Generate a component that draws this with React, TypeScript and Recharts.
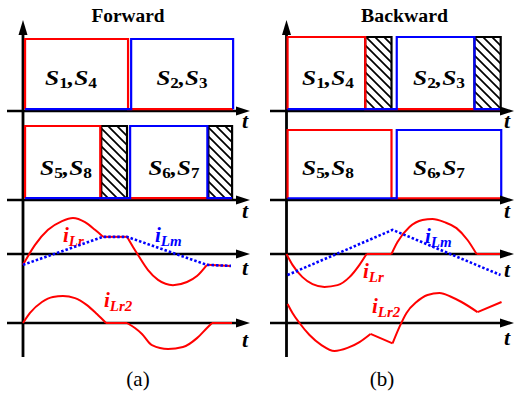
import React from 'react';
import {
  ComposedChart,
  Line,
  XAxis,
  YAxis,
  ReferenceLine,
  ReferenceArea,
  ReferenceDot,
} from 'recharts';

type P = { t: number; v: number };
type Span = { t1: number; t2: number };

// ---------- DATA (time t in arbitrary units, half switching period = 10) ----------
const LOW = 0.025; // "off" level of the gate signals (drawn just above the axis)

// Forward (a) gate signals
const fwdS14: P[] = [{ t: 0.2, v: LOW }, { t: 0.2, v: 1 }, { t: 10.2, v: 1 }, { t: 10.2, v: LOW }, { t: 20.4, v: LOW }];
const fwdS23: P[] = [{ t: 0.2, v: LOW }, { t: 10.5, v: LOW }, { t: 10.5, v: 1 }, { t: 20.4, v: 1 }, { t: 20.4, v: LOW }];
const fwdS58: P[] = [{ t: 0.2, v: LOW }, { t: 0.2, v: 1 }, { t: 7.5, v: 1 }, { t: 7.5, v: LOW }, { t: 20.3, v: LOW }];
const fwdS67: P[] = [{ t: 0.2, v: LOW }, { t: 10.4, v: LOW }, { t: 10.4, v: 1 }, { t: 17.9, v: 1 }, { t: 17.9, v: LOW }, { t: 20.3, v: LOW }];
const fwdDeadRow2: Span[] = [{ t1: 7.6, t2: 10.1 }, { t1: 18.0, t2: 20.3 }];

// Forward (a) currents
const fwdILr: P[] = [
  { t: 0, v: -0.31 }, { t: 1.17, v: 0.26 }, { t: 2.43, v: 0.69 }, { t: 3.79, v: 0.94 }, { t: 4.85, v: 1.03 },
  { t: 6.02, v: 0.91 }, { t: 6.99, v: 0.69 }, { t: 7.77, v: 0.49 }, { t: 10.1, v: 0.49 }, { t: 10.68, v: 0.2 },
  { t: 11.17, v: -0.03 }, { t: 12.14, v: -0.46 }, { t: 13.11, v: -0.74 }, { t: 14.56, v: -0.89 }, { t: 15.92, v: -0.8 },
  { t: 16.89, v: -0.63 }, { t: 17.86, v: -0.31 }, { t: 20.19, v: -0.34 },
];
const fwdILrCorners = [7, 8, 16];
const fwdILm: P[] = [{ t: 0, v: -0.31 }, { t: 7.77, v: 0.49 }, { t: 10.1, v: 0.49 }, { t: 17.86, v: -0.31 }, { t: 20.19, v: -0.34 }];
const fwdILr2: P[] = [
  { t: 0, v: 0 }, { t: 0.68, v: 0.36 }, { t: 1.84, v: 0.75 }, { t: 2.91, v: 0.93 }, { t: 3.88, v: 0.96 },
  { t: 5.05, v: 0.89 }, { t: 6.21, v: 0.64 }, { t: 7.18, v: 0.32 }, { t: 8.06, v: 0 }, { t: 10.1, v: 0 },
  { t: 10.87, v: -0.18 }, { t: 11.55, v: -0.39 }, { t: 12.52, v: -0.79 }, { t: 14.08, v: -0.93 }, { t: 15.53, v: -0.86 },
  { t: 16.89, v: -0.54 }, { t: 17.86, v: -0.18 }, { t: 18.35, v: 0 }, { t: 20.29, v: 0 },
];
const fwdILr2Corners = [8, 9, 17];

// Backward (b) gate signals
const bwdS14: P[] = [{ t: 0.1, v: LOW }, { t: 0.1, v: 1 }, { t: 7.5, v: 1 }, { t: 7.5, v: LOW }, { t: 20.4, v: LOW }];
const bwdS23: P[] = [{ t: 0.1, v: LOW }, { t: 10.5, v: LOW }, { t: 10.5, v: 1 }, { t: 17.9, v: 1 }, { t: 17.9, v: LOW }, { t: 20.4, v: LOW }];
const bwdDeadRow1: Span[] = [{ t1: 7.5, t2: 10.0 }, { t1: 17.9, t2: 20.4 }];
const bwdS58: P[] = [{ t: 0.1, v: LOW }, { t: 0.1, v: 1 }, { t: 10.0, v: 1 }, { t: 10.0, v: LOW }, { t: 20.45, v: LOW }];
const bwdS67: P[] = [{ t: 0.1, v: LOW }, { t: 10.5, v: LOW }, { t: 10.5, v: 1 }, { t: 20.45, v: 1 }, { t: 20.45, v: LOW }];

// Backward (b) currents
const bwdILr: P[] = [
  { t: 0, v: 0 }, { t: 0.57, v: -0.31 }, { t: 1.52, v: -0.66 }, { t: 2.48, v: -0.86 }, { t: 3.62, v: -0.94 },
  { t: 4.86, v: -0.89 }, { t: 6.0, v: -0.66 }, { t: 6.95, v: -0.31 }, { t: 7.62, v: 0 }, { t: 10.0, v: 0 },
  { t: 10.57, v: 0.34 }, { t: 11.71, v: 0.77 }, { t: 12.95, v: 0.97 }, { t: 13.9, v: 1.0 }, { t: 15.05, v: 0.91 },
  { t: 16.19, v: 0.74 }, { t: 17.24, v: 0.4 }, { t: 18.1, v: 0 }, { t: 20.48, v: 0 },
];
const bwdILrCorners = [8, 9, 17];
const bwdILm: P[] = [{ t: 0.1, v: -0.6 }, { t: 10.1, v: 0.69 }, { t: 20.38, v: -0.6 }];
const bwdILr2: P[] = [
  { t: 0.1, v: 0.68 }, { t: 0.57, v: 0.36 }, { t: 1.24, v: 0 }, { t: 2.19, v: -0.43 }, { t: 3.33, v: -0.79 },
  { t: 4.57, v: -1.0 }, { t: 5.81, v: -0.89 }, { t: 6.95, v: -0.68 }, { t: 8.0, v: -0.39 }, { t: 10.1, v: -0.73 },
  { t: 10.76, v: -0.14 }, { t: 11.43, v: 0.36 }, { t: 12.38, v: 0.75 }, { t: 13.43, v: 1.0 }, { t: 14.57, v: 1.07 },
  { t: 15.71, v: 0.93 }, { t: 16.67, v: 0.75 }, { t: 18.19, v: 0.39 }, { t: 20.48, v: 0.75 },
];
const bwdILr2Corners = [8, 9, 17];

// ---------- LAYOUT ----------
const H = 396;
const BASE = [111, 200, 254, 323]; // pixel baselines of the four rows
const FONT = 'Liberation Serif';
const RED = '#ff0000';
const BLUE = '#0000ff';

function splitAt(data: P[], corners: number[]): P[][] {
  const cuts = [0, ...corners, data.length - 1];
  const out: P[][] = [];
  for (let k = 0; k < cuts.length - 1; k++) out.push(data.slice(cuts[k], cuts[k + 1] + 1));
  return out;
}

const ArrowRight = (p: any) => (
  <polygon points={`${p.cx},${p.cy} ${p.cx - 14},${p.cy - 4.5} ${p.cx - 14},${p.cy + 4.5}`} fill="#000" />
);
const ArrowUp = (p: any) => (
  <polygon points={`${p.cx},${p.cy} ${p.cx - 4.5},${p.cy + 15} ${p.cx + 4.5},${p.cy + 15}`} fill="#000" />
);

const txt = (weight: string, style: string, size: number): React.CSSProperties => ({
  fontFamily: FONT,
  fontWeight: weight as any,
  fontStyle: style as any,
  fontSize: size,
});

function SLabel({ x, y, a, b, len }: { x: number; y: number; a: string; b: string; len: number }) {
  return (
    <text x={x} y={y} textAnchor="middle" style={txt('bold', 'italic', 22)}
      fill="#000" textLength={len} lengthAdjust="spacingAndGlyphs">
      <tspan>S</tspan>
      <tspan style={txt('bold', 'normal', 15)} dy={3}>{a}</tspan>
      <tspan dy={-3}>,S</tspan>
      <tspan style={txt('bold', 'normal', 15)} dy={3}>{b}</tspan>
    </text>
  );
}

function ILabel({ x, y, sub, color }: { x: number; y: number; sub: string; color: string }) {
  return (
    <text x={x} y={y} style={txt('bold', 'italic', 21)} fill={color}>
      <tspan>i</tspan>
      <tspan style={txt('bold', 'italic', 15)} dy={4}>{sub}</tspan>
    </text>
  );
}

function TLabel({ x, y }: { x: number; y: number }) {
  return (
    <text x={x} y={y} textAnchor="middle" style={txt('bold', 'italic', 22)} fill="#000">t</text>
  );
}

type Gate = { row: number; data: P[]; color: string };
type Wave = { row: number; data: P[]; corners: number[]; color: string; dotted?: boolean };

interface PanelCfg {
  id: string;
  left: number;
  width: number;
  origin: number; // page x of vertical axis
  scale: number; // px per time unit
  units: number[]; // px per value unit, per row
  axisStart: number;
  axisTip: number;
  gates: Gate[];
  dead: { row: number; spans: Span[] }[];
  waves: Wave[];
  texts: React.ReactNode;
}

function Panel({ cfg }: { cfg: PanelCfg }) {
  const { left, width, origin, scale, units } = cfg;
  const o = origin - left;
  const px2t = (px: number) => (px - origin) / scale;
  const py2v = (row: number, py: number) => (BASE[row] - py) / units[row];
  const pid = `hatch-${cfg.id}`;
  return (
    <div style={{ position: 'absolute', left, top: 0 }}>
      <ComposedChart width={width} height={H} margin={{ top: 0, right: 0, bottom: 0, left: 0 }}>
        <defs>
          <pattern id={pid} patternUnits="userSpaceOnUse" width={9} height={9}>
            <rect x={0} y={0} width={9} height={9} fill="#fff" />
            <path d="M-1,-1 L10,10 M-1,8 L1,10 M8,-1 L10,1" stroke="#000" strokeWidth={1.7} />
          </pattern>
        </defs>
        <XAxis type="number" dataKey="t" domain={[-o / scale, (width - o) / scale]} hide allowDataOverflow />
        {BASE.map((b, i) => (
          <YAxis key={i} yAxisId={`r${i}`} type="number" domain={[(b - H) / units[i], b / units[i]]} hide allowDataOverflow />
        ))}
        {cfg.dead.map((d) =>
          d.spans.map((s, k) => (
            <ReferenceArea key={`d${d.row}-${k}`} yAxisId={`r${d.row}`} x1={s.t1} x2={s.t2} y1={0} y2={1}
              fill={`url(#${pid})`} fillOpacity={1} stroke="#000" strokeWidth={2.2} ifOverflow="visible" />
          ))
        )}
        {BASE.map((_, i) => (
          <ReferenceLine key={`ax${i}`} yAxisId={`r${i}`} ifOverflow="visible"
            segment={[{ x: px2t(cfg.axisStart), y: 0 }, { x: px2t(cfg.axisTip - 12), y: 0 }]}
            stroke="#000" strokeWidth={2.6} />
        ))}
        {BASE.map((_, i) => (
          <ReferenceDot key={`ar${i}`} yAxisId={`r${i}`} x={px2t(cfg.axisTip)} y={0} r={0} ifOverflow="visible" shape={ArrowRight} />
        ))}
        <ReferenceLine yAxisId="r0" ifOverflow="visible"
          segment={[{ x: 0, y: py2v(0, 357) }, { x: 0, y: py2v(0, 32) }]} stroke="#000" strokeWidth={2.8} />
        <ReferenceDot yAxisId="r0" x={0} y={py2v(0, 20)} r={0} ifOverflow="visible" shape={ArrowUp} />
        {cfg.gates.map((g, k) => (
          <Line key={`g${k}`} yAxisId={`r${g.row}`} data={g.data} dataKey="v" type="linear" stroke={g.color}
            strokeWidth={2.2} dot={false} activeDot={false} isAnimationActive={false} />
        ))}
        {cfg.waves.map((w, k) =>
          splitAt(w.data, w.corners).map((seg, j) => (
            <Line key={`w${k}-${j}`} yAxisId={`r${w.row}`} data={seg} dataKey="v"
              type={!w.dotted && seg.length > 2 ? 'monotone' : 'linear'} stroke={w.color}
              strokeWidth={w.dotted ? 2.6 : 2} strokeDasharray={w.dotted ? '2.5 2' : undefined}
              dot={false} activeDot={false} isAnimationActive={false} />
          ))
        )}
        <g transform={`translate(${-left},0)`}>{cfg.texts}</g>
      </ComposedChart>
    </div>
  );
}

const panelA: PanelCfg = {
  id: 'a',
  left: 0,
  width: 257,
  origin: 23,
  scale: 10.3,
  units: [72, 74, 35, 28],
  axisStart: 7,
  axisTip: 250,
  gates: [
    { row: 0, data: fwdS14, color: RED },
    { row: 0, data: fwdS23, color: BLUE },
    { row: 1, data: fwdS58, color: RED },
    { row: 1, data: fwdS67, color: BLUE },
  ],
  dead: [{ row: 1, spans: fwdDeadRow2 }],
  waves: [
    { row: 2, data: fwdILr, corners: fwdILrCorners, color: RED },
    { row: 2, data: fwdILm, corners: [], color: BLUE, dotted: true },
    { row: 3, data: fwdILr2, corners: fwdILr2Corners, color: RED },
  ],
  texts: (
    <>
      <text x={128} y={22} textAnchor="middle" style={txt('bold', 'normal', 18)} textLength={73} lengthAdjust="spacingAndGlyphs">Forward</text>
      <SLabel x={71} y={85} a="1" b="4" len={52} />
      <SLabel x={182} y={85} a="2" b="3" len={51} />
      <SLabel x={66} y={175} a="5" b="8" len={52} />
      <SLabel x={174} y={175} a="6" b="7" len={51} />
      <ILabel x={63} y={242} sub="Lr" color={RED} />
      <ILabel x={155} y={242} sub="Lm" color={BLUE} />
      <ILabel x={104} y={307} sub="Lr2" color={RED} />
      <TLabel x={245} y={128} />
      <TLabel x={245} y={218} />
      <TLabel x={245} y={275} />
      <TLabel x={245} y={347} />
      <text x={138} y={386} textAnchor="middle" style={txt('normal', 'normal', 21)}>(a)</text>
    </>
  ),
};

const panelB: PanelCfg = {
  id: 'b',
  left: 257,
  width: 258,
  origin: 286.5,
  scale: 10.5,
  units: [74, 70, 35, 28],
  axisStart: 270,
  axisTip: 514,
  gates: [
    { row: 0, data: bwdS14, color: RED },
    { row: 0, data: bwdS23, color: BLUE },
    { row: 1, data: bwdS58, color: RED },
    { row: 1, data: bwdS67, color: BLUE },
  ],
  dead: [{ row: 0, spans: bwdDeadRow1 }],
  waves: [
    { row: 2, data: bwdILr, corners: bwdILrCorners, color: RED },
    { row: 2, data: bwdILm, corners: [], color: BLUE, dotted: true },
    { row: 3, data: bwdILr2, corners: bwdILr2Corners, color: RED },
  ],
  texts: (
    <>
      <text x={404.5} y={22} textAnchor="middle" style={txt('bold', 'normal', 18)} textLength={87} lengthAdjust="spacingAndGlyphs">Backward</text>
      <SLabel x={328} y={85} a="1" b="4" len={52} />
      <SLabel x={439} y={85} a="2" b="3" len={52} />
      <SLabel x={328} y={175} a="5" b="8" len={52} />
      <SLabel x={439} y={175} a="6" b="7" len={52} />
      <ILabel x={425} y={243} sub="Lm" color={BLUE} />
      <ILabel x={363} y={278} sub="Lr" color={RED} />
      <ILabel x={372} y={313} sub="Lr2" color={RED} />
      <TLabel x={507} y={128} />
      <TLabel x={507} y={218} />
      <TLabel x={507} y={277} />
      <TLabel x={507} y={345} />
      <text x={382} y={386} textAnchor="middle" style={txt('normal', 'normal', 21)}>(b)</text>
    </>
  ),
};

export default function App() {
  return (
    <div style={{ position: 'absolute', left: 0, top: 0, width: 515, height: 396, background: '#fff', overflow: 'hidden' }}>
      <Panel cfg={panelA} />
      <Panel cfg={panelB} />
    </div>
  );
}
